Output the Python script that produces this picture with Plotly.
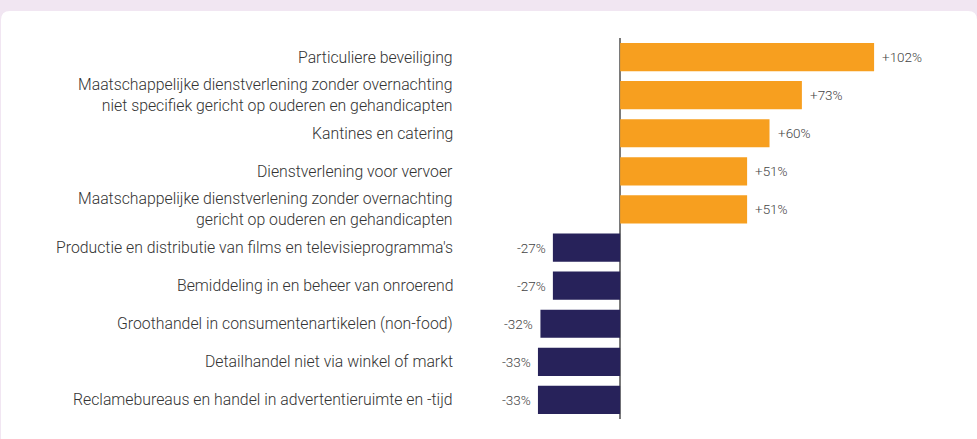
import plotly.graph_objects as go

categories = [
    "Particuliere beveiliging",
    "Maatschappelijke dienstverlening zonder overnachting<br>niet specifiek gericht op ouderen en gehandicapten",
    "Kantines en catering",
    "Dienstverlening voor vervoer",
    "Maatschappelijke dienstverlening zonder overnachting<br>gericht op ouderen en gehandicapten",
    "Productie en distributie van films en televisieprogramma's",
    "Bemiddeling in en beheer van onroerend",
    "Groothandel in consumentenartikelen (non-food)",
    "Detailhandel niet via winkel of markt",
    "Reclamebureaus en handel in advertentieruimte en -tijd",
]
values = [102, 73, 60, 51, 51, -27, -27, -32, -33, -33]
value_labels = ["+102%", "+73%", "+60%", "+51%", "+51%", "-27%", "-27%", "-32%", "-33%", "-33%"]

ORANGE = "#F79F1F"
NAVY = "#27225A"
colors = [ORANGE if v > 0 else NAVY for v in values]

fig = go.Figure()
fig.add_trace(go.Bar(
    x=values, y=categories, orientation="h",
    marker=dict(color=colors, line=dict(width=0)),
    hoverinfo="skip",
))

for c, v, t in zip(categories, values, value_labels):
    fig.add_annotation(
        x=v, y=c, text=t, showarrow=False,
        xanchor="left" if v > 0 else "right",
        xshift=6 if v > 0 else -5,
        font=dict(family="Roboto", size=13.5, color="#444444", weight=300),
    )

# category labels (right-aligned, left of the plot area)
for c in categories:
    fig.add_annotation(
        x=0, xref="paper", y=c, text=c, showarrow=False,
        xanchor="right", align="right", xshift=-8, borderpad=0,
        font=dict(family="Roboto", size=15.8, color="#333333", weight=300),
    )

# plot area in pixels: x 462..960, y 38..419
L, R, T, B = 462, 960, 38, 419
W, H = 977, 439
pw, ph = R - L, B - T

def px(x):
    return (x - L) / pw

def py(y):
    return (B - y) / ph

x0, x1, y0, y1 = px(1), px(977), py(11), py(470)
rx, ry = 9 / pw, 9 / ph
path = (f"M {x0} {y1} L {x0} {y0 - ry} Q {x0} {y0} {x0 + rx} {y0} "
        f"L {x1 - rx} {y0} Q {x1} {y0} {x1} {y0 - ry} L {x1} {y1} Z")
fig.add_shape(type="path", path=path, xref="paper", yref="paper",
              fillcolor="white", line=dict(width=0), layer="below")

fig.update_layout(
    width=W, height=H,
    margin=dict(l=L, r=W - R, t=T, b=H - B),
    paper_bgcolor="#F1E6F2",
    plot_bgcolor="rgba(0,0,0,0)",
    showlegend=False,
    bargap=0.26,
    font=dict(family="Roboto", color="#333333"),
    xaxis=dict(range=[-63.5, 136.5], showgrid=False, showticklabels=False,
               zeroline=True, zerolinecolor="#7a7a7a", zerolinewidth=1.5,
               fixedrange=True),
    yaxis=dict(autorange="reversed", showgrid=False, zeroline=False,
               showticklabels=False, fixedrange=True),
)

fig.write_html(
    "out.html",
    config={"displayModeBar": False},
    post_script="document.body.style.margin='0';document.body.style.background='#F1E6F2';",
)
